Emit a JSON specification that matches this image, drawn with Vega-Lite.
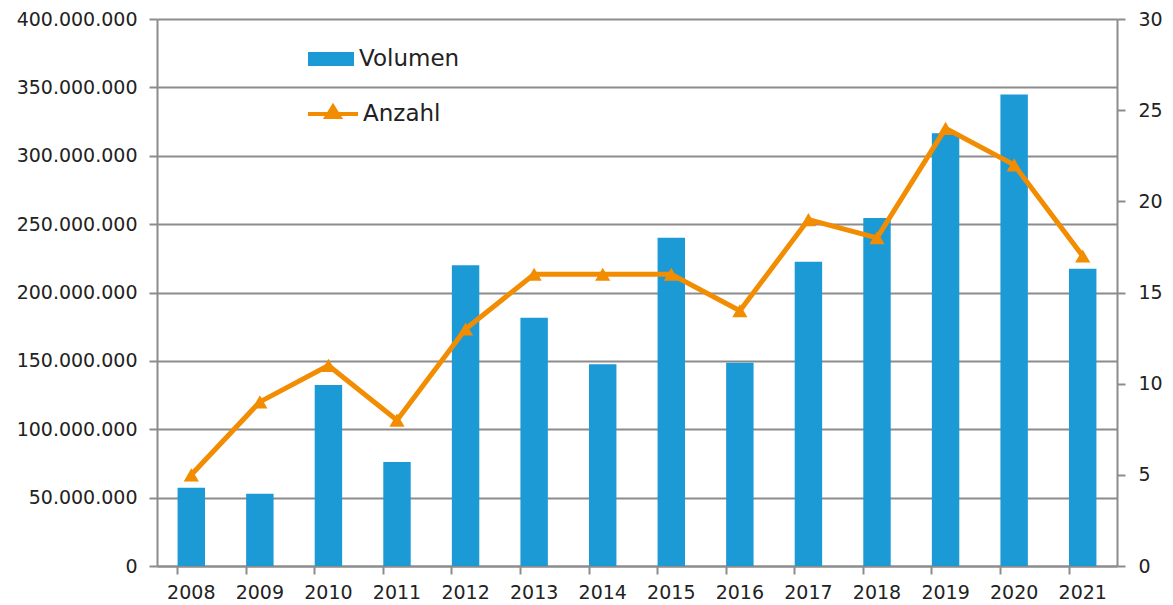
{
  "$schema": "https://vega.github.io/schema/vega-lite/v6.json",
  "autosize": {"type": "none"},
  "padding": {"left": 157, "top": 19, "right": 56, "bottom": 39},
  "width": 960,
  "height": 547,
  "background": "white",
  "config": {
    "view": {"stroke": null},
    "font": "DejaVu Sans",
    "axis": {
      "labelFont": "DejaVu Sans",
      "labelFontSize": 19,
      "labelColor": "#222222",
      "domainColor": "#8c8c8c",
      "domainWidth": 2,
      "tickColor": "#8c8c8c",
      "tickWidth": 2,
      "gridColor": "#8c8c8c",
      "gridWidth": 2,
      "title": null
    }
  },
  "data": {
    "values": [
      {"jahr": "2008", "volumen": 57300000, "anzahl": 5},
      {"jahr": "2009", "volumen": 52900000, "anzahl": 9},
      {"jahr": "2010", "volumen": 132400000, "anzahl": 11},
      {"jahr": "2011", "volumen": 76000000, "anzahl": 8},
      {"jahr": "2012", "volumen": 220000000, "anzahl": 13},
      {"jahr": "2013", "volumen": 181600000, "anzahl": 16},
      {"jahr": "2014", "volumen": 147500000, "anzahl": 16},
      {"jahr": "2015", "volumen": 240000000, "anzahl": 16},
      {"jahr": "2016", "volumen": 148700000, "anzahl": 14},
      {"jahr": "2017", "volumen": 222500000, "anzahl": 19},
      {"jahr": "2018", "volumen": 254500000, "anzahl": 18},
      {"jahr": "2019", "volumen": 316400000, "anzahl": 24},
      {"jahr": "2020", "volumen": 344700000, "anzahl": 22},
      {"jahr": "2021", "volumen": 217400000, "anzahl": 17}
    ]
  },
  "encoding": {
    "x": {
      "field": "jahr",
      "type": "ordinal",
      "scale": {"paddingInner": 0.6, "paddingOuter": 0.3},
      "axis": {
        "labelAngle": 0,
        "bandPosition": 0,
        "tickSize": 8,
        "labelPadding": 9,
        "grid": false,
        "domain": true
      }
    }
  },
  "layer": [
    {
      "mark": {"type": "bar", "color": "#1B9AD6"},
      "encoding": {
        "y": {
          "field": "volumen",
          "type": "quantitative",
          "scale": {"domain": [0, 400000000], "nice": false},
          "axis": {
            "values": [0, 50000000, 100000000, 150000000, 200000000, 250000000, 300000000, 350000000, 400000000],
            "labelExpr": "replace(format(datum.value, ',.0f'), /,/g, '.')",
            "grid": true,
            "tickSize": 8,
            "labelPadding": 12,
            "zindex": 0
          }
        },
        "fill": {
          "datum": "Volumen",
          "type": "nominal",
          "scale": {"range": ["#1B9AD6"]},
          "legend": {
            "orient": "none",
            "legendX": 151,
            "legendY": 17,
            "title": null,
            "symbolType": "M-1,-0.3H1V0.3H-1Z",
            "symbolSize": 2116,
            "symbolStrokeWidth": 0,
            "labelFontSize": 23,
            "labelColor": "#222222",
            "labelFont": "DejaVu Sans",
            "labelOffset": 5
          }
        }
      }
    },
    {
      "mark": {"type": "line", "color": "#F28C00", "strokeWidth": 5},
      "encoding": {
        "y": {
          "field": "anzahl",
          "type": "quantitative",
          "scale": {"domain": [0, 30], "nice": false},
          "axis": {
            "orient": "right",
            "values": [0, 5, 10, 15, 20, 25, 30],
            "grid": false,
            "tickSize": 8,
            "labelPadding": 13
          }
        },
        "stroke": {
          "datum": "Anzahl",
          "type": "nominal",
          "scale": {"range": ["#F28C00"]},
          "legend": {
            "orient": "none",
            "legendX": 149,
            "legendY": 68,
            "title": null,
            "symbolType": "M-1,0H1M-0.26,0.12L0,-0.3L0.26,0.12Z",
            "symbolSize": 2500,
            "symbolFillColor": "#F28C00",
            "symbolStrokeWidth": 4,
            "labelFontSize": 23,
            "labelColor": "#222222",
            "labelFont": "DejaVu Sans",
            "labelOffset": 3
          }
        }
      }
    },
    {
      "mark": {"type": "point", "shape": "triangle-up", "filled": true, "size": 230, "color": "#F28C00", "opacity": 1},
      "encoding": {
        "y": {"field": "anzahl", "type": "quantitative", "scale": {"domain": [0, 30], "nice": false}, "axis": null}
      }
    }
  ],
  "resolve": {"scale": {"y": "independent"}}
}
